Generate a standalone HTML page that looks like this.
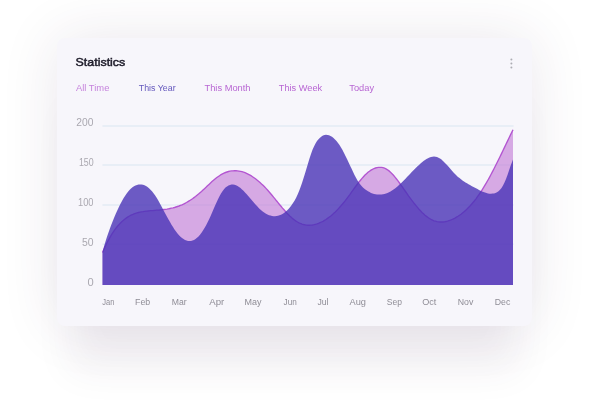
<!DOCTYPE html>
<html lang="en"><head><meta charset="utf-8"><title>Statistics</title>
<style>
html,body{margin:0;padding:0;background:#fff;}
body{width:600px;height:400px;position:relative;overflow:hidden;font-family:"Liberation Sans",sans-serif;}
.card{position:absolute;left:57px;top:38px;width:475px;height:288px;border-radius:8px;background:#f7f6fb;box-shadow:0 0 58px rgba(60,35,85,0.11),0 58px 37px -14px rgba(60,35,85,0.062);}
.t{position:absolute;left:0;top:0;white-space:nowrap;transform-origin:0 0;}
.title{font-size:11px;line-height:14px;font-weight:400;-webkit-text-stroke:0.45px #1c1a28;}
.tab{font-size:9.6px;line-height:12px;}
.yl{font-size:10.8px;line-height:14px;}
.ml{font-size:8.2px;line-height:12px;}
svg{position:absolute;left:0;top:0;}
</style></head><body>
<div class="card"></div>
<svg width="600" height="400" viewBox="0 0 600 400">
<rect x="102.5" y="125.2" width="411" height="1.6" fill="#e4ebf4"/>
<rect x="102.5" y="164.2" width="411" height="1.6" fill="#e4ebf4"/>
<rect x="102.5" y="204.2" width="411" height="1.6" fill="#e4ebf4"/>
<rect x="102.5" y="243.39999999999998" width="411" height="1.6" fill="#e4ebf4"/>
<path d="M102.5 252.6 L104.0 249.1 L105.5 245.9 L107.0 242.8 L108.5 240.0 L110.0 237.3 L111.5 234.7 L113.0 232.4 L114.5 230.2 L116.0 228.2 L117.5 226.3 L119.0 224.6 L120.5 223.0 L122.0 221.6 L123.5 220.2 L125.0 219.0 L126.5 217.9 L128.0 216.9 L129.5 216.0 L131.0 215.2 L132.5 214.5 L134.0 213.9 L135.5 213.4 L137.0 212.9 L138.5 212.5 L140.0 212.1 L141.5 211.8 L143.0 211.6 L144.5 211.3 L146.0 211.1 L147.5 211.0 L149.0 210.8 L150.5 210.7 L152.0 210.6 L153.5 210.5 L155.0 210.3 L156.5 210.2 L158.0 210.1 L159.5 210.0 L161.0 209.8 L162.5 209.7 L164.0 209.5 L165.5 209.3 L167.0 209.1 L168.5 208.8 L170.0 208.5 L171.5 208.2 L173.0 207.9 L174.5 207.5 L176.0 207.0 L177.5 206.5 L179.0 206.0 L180.5 205.4 L182.0 204.8 L183.5 204.1 L185.0 203.3 L186.5 202.5 L188.0 201.6 L189.5 200.7 L191.0 199.7 L192.5 198.7 L194.0 197.6 L195.5 196.5 L197.0 195.3 L198.5 194.1 L200.0 192.8 L201.5 191.5 L203.0 190.1 L204.5 188.7 L206.0 187.3 L207.5 185.8 L209.0 184.4 L210.5 183.0 L212.0 181.6 L213.5 180.3 L215.0 179.0 L216.5 177.8 L218.0 176.7 L219.5 175.7 L221.0 174.7 L222.5 173.9 L224.0 173.1 L225.5 172.5 L227.0 172.0 L228.5 171.5 L230.0 171.2 L231.5 170.9 L233.0 170.8 L234.5 170.7 L236.0 170.7 L237.5 170.9 L239.0 171.1 L240.5 171.4 L242.0 171.7 L243.5 172.2 L245.0 172.7 L246.5 173.4 L248.0 174.1 L249.5 174.9 L251.0 175.7 L252.5 176.7 L254.0 177.7 L255.5 178.8 L257.0 180.0 L258.5 181.2 L260.0 182.5 L261.5 183.9 L263.0 185.3 L264.5 186.8 L266.0 188.4 L267.5 190.0 L269.0 191.7 L270.5 193.5 L272.0 195.3 L273.5 197.1 L275.0 198.9 L276.5 200.8 L278.0 202.6 L279.5 204.5 L281.0 206.3 L282.5 208.1 L284.0 209.8 L285.5 211.5 L287.0 213.2 L288.5 214.7 L290.0 216.2 L291.5 217.6 L293.0 218.9 L294.5 220.0 L296.0 221.1 L297.5 222.0 L299.0 222.8 L300.5 223.5 L302.0 224.1 L303.5 224.5 L305.0 224.8 L306.5 225.1 L308.0 225.2 L309.5 225.2 L311.0 225.1 L312.5 225.0 L314.0 224.7 L315.5 224.3 L317.0 223.9 L318.5 223.4 L320.0 222.7 L321.5 222.0 L323.0 221.3 L324.5 220.4 L326.0 219.5 L327.5 218.4 L329.0 217.3 L330.5 216.2 L332.0 214.9 L333.5 213.6 L335.0 212.2 L336.5 210.7 L338.0 209.1 L339.5 207.5 L341.0 205.8 L342.5 204.0 L344.0 202.2 L345.5 200.3 L347.0 198.3 L348.5 196.3 L350.0 194.3 L351.5 192.2 L353.0 190.1 L354.5 188.0 L356.0 186.0 L357.5 184.0 L359.0 182.0 L360.5 180.2 L362.0 178.4 L363.5 176.7 L365.0 175.1 L366.5 173.7 L368.0 172.3 L369.5 171.2 L371.0 170.1 L372.5 169.3 L374.0 168.5 L375.5 168.0 L377.0 167.6 L378.5 167.3 L380.0 167.3 L381.5 167.4 L383.0 167.7 L384.5 168.2 L386.0 168.9 L387.5 169.8 L389.0 170.9 L390.5 172.2 L392.0 173.7 L393.5 175.3 L395.0 177.1 L396.5 179.0 L398.0 180.9 L399.5 183.0 L401.0 185.1 L402.5 187.2 L404.0 189.4 L405.5 191.5 L407.0 193.7 L408.5 195.8 L410.0 197.8 L411.5 199.9 L413.0 201.8 L414.5 203.8 L416.0 205.6 L417.5 207.4 L419.0 209.2 L420.5 210.8 L422.0 212.4 L423.5 213.8 L425.0 215.2 L426.5 216.4 L428.0 217.5 L429.5 218.5 L431.0 219.4 L432.5 220.1 L434.0 220.8 L435.5 221.2 L437.0 221.6 L438.5 221.9 L440.0 222.0 L441.5 222.0 L443.0 222.0 L444.5 221.8 L446.0 221.5 L447.5 221.2 L449.0 220.7 L450.5 220.2 L452.0 219.5 L453.5 218.8 L455.0 218.1 L456.5 217.2 L458.0 216.3 L459.5 215.3 L461.0 214.2 L462.5 213.0 L464.0 211.8 L465.5 210.4 L467.0 209.0 L468.5 207.5 L470.0 206.0 L471.5 204.3 L473.0 202.5 L474.5 200.7 L476.0 198.8 L477.5 196.7 L479.0 194.6 L480.5 192.4 L482.0 190.1 L483.5 187.7 L485.0 185.2 L486.5 182.7 L488.0 180.0 L489.5 177.3 L491.0 174.5 L492.5 171.6 L494.0 168.7 L495.5 165.8 L497.0 162.8 L498.5 159.8 L500.0 156.7 L501.5 153.6 L503.0 150.5 L504.5 147.4 L506.0 144.2 L507.5 141.1 L509.0 138.0 L510.5 134.9 L513.0 129.7 L513 285 L102.5 285 Z" fill="rgb(192,118,214)" fill-opacity="0.6"/>
<path d="M102.5 252.6 L104.0 249.1 L105.5 245.9 L107.0 242.8 L108.5 240.0 L110.0 237.3 L111.5 234.7 L113.0 232.4 L114.5 230.2 L116.0 228.2 L117.5 226.3 L119.0 224.6 L120.5 223.0 L122.0 221.6 L123.5 220.2 L125.0 219.0 L126.5 217.9 L128.0 216.9 L129.5 216.0 L131.0 215.2 L132.5 214.5 L134.0 213.9 L135.5 213.4 L137.0 212.9 L138.5 212.5 L140.0 212.1 L141.5 211.8 L143.0 211.6 L144.5 211.3 L146.0 211.1 L147.5 211.0 L149.0 210.8 L150.5 210.7 L152.0 210.6 L153.5 210.5 L155.0 210.3 L156.5 210.2 L158.0 210.1 L159.5 210.0 L161.0 209.8 L162.5 209.7 L164.0 209.5 L165.5 209.3 L167.0 209.1 L168.5 208.8 L170.0 208.5 L171.5 208.2 L173.0 207.9 L174.5 207.5 L176.0 207.0 L177.5 206.5 L179.0 206.0 L180.5 205.4 L182.0 204.8 L183.5 204.1 L185.0 203.3 L186.5 202.5 L188.0 201.6 L189.5 200.7 L191.0 199.7 L192.5 198.7 L194.0 197.6 L195.5 196.5 L197.0 195.3 L198.5 194.1 L200.0 192.8 L201.5 191.5 L203.0 190.1 L204.5 188.7 L206.0 187.3 L207.5 185.8 L209.0 184.4 L210.5 183.0 L212.0 181.6 L213.5 180.3 L215.0 179.0 L216.5 177.8 L218.0 176.7 L219.5 175.7 L221.0 174.7 L222.5 173.9 L224.0 173.1 L225.5 172.5 L227.0 172.0 L228.5 171.5 L230.0 171.2 L231.5 170.9 L233.0 170.8 L234.5 170.7 L236.0 170.7 L237.5 170.9 L239.0 171.1 L240.5 171.4 L242.0 171.7 L243.5 172.2 L245.0 172.7 L246.5 173.4 L248.0 174.1 L249.5 174.9 L251.0 175.7 L252.5 176.7 L254.0 177.7 L255.5 178.8 L257.0 180.0 L258.5 181.2 L260.0 182.5 L261.5 183.9 L263.0 185.3 L264.5 186.8 L266.0 188.4 L267.5 190.0 L269.0 191.7 L270.5 193.5 L272.0 195.3 L273.5 197.1 L275.0 198.9 L276.5 200.8 L278.0 202.6 L279.5 204.5 L281.0 206.3 L282.5 208.1 L284.0 209.8 L285.5 211.5 L287.0 213.2 L288.5 214.7 L290.0 216.2 L291.5 217.6 L293.0 218.9 L294.5 220.0 L296.0 221.1 L297.5 222.0 L299.0 222.8 L300.5 223.5 L302.0 224.1 L303.5 224.5 L305.0 224.8 L306.5 225.1 L308.0 225.2 L309.5 225.2 L311.0 225.1 L312.5 225.0 L314.0 224.7 L315.5 224.3 L317.0 223.9 L318.5 223.4 L320.0 222.7 L321.5 222.0 L323.0 221.3 L324.5 220.4 L326.0 219.5 L327.5 218.4 L329.0 217.3 L330.5 216.2 L332.0 214.9 L333.5 213.6 L335.0 212.2 L336.5 210.7 L338.0 209.1 L339.5 207.5 L341.0 205.8 L342.5 204.0 L344.0 202.2 L345.5 200.3 L347.0 198.3 L348.5 196.3 L350.0 194.3 L351.5 192.2 L353.0 190.1 L354.5 188.0 L356.0 186.0 L357.5 184.0 L359.0 182.0 L360.5 180.2 L362.0 178.4 L363.5 176.7 L365.0 175.1 L366.5 173.7 L368.0 172.3 L369.5 171.2 L371.0 170.1 L372.5 169.3 L374.0 168.5 L375.5 168.0 L377.0 167.6 L378.5 167.3 L380.0 167.3 L381.5 167.4 L383.0 167.7 L384.5 168.2 L386.0 168.9 L387.5 169.8 L389.0 170.9 L390.5 172.2 L392.0 173.7 L393.5 175.3 L395.0 177.1 L396.5 179.0 L398.0 180.9 L399.5 183.0 L401.0 185.1 L402.5 187.2 L404.0 189.4 L405.5 191.5 L407.0 193.7 L408.5 195.8 L410.0 197.8 L411.5 199.9 L413.0 201.8 L414.5 203.8 L416.0 205.6 L417.5 207.4 L419.0 209.2 L420.5 210.8 L422.0 212.4 L423.5 213.8 L425.0 215.2 L426.5 216.4 L428.0 217.5 L429.5 218.5 L431.0 219.4 L432.5 220.1 L434.0 220.8 L435.5 221.2 L437.0 221.6 L438.5 221.9 L440.0 222.0 L441.5 222.0 L443.0 222.0 L444.5 221.8 L446.0 221.5 L447.5 221.2 L449.0 220.7 L450.5 220.2 L452.0 219.5 L453.5 218.8 L455.0 218.1 L456.5 217.2 L458.0 216.3 L459.5 215.3 L461.0 214.2 L462.5 213.0 L464.0 211.8 L465.5 210.4 L467.0 209.0 L468.5 207.5 L470.0 206.0 L471.5 204.3 L473.0 202.5 L474.5 200.7 L476.0 198.8 L477.5 196.7 L479.0 194.6 L480.5 192.4 L482.0 190.1 L483.5 187.7 L485.0 185.2 L486.5 182.7 L488.0 180.0 L489.5 177.3 L491.0 174.5 L492.5 171.6 L494.0 168.7 L495.5 165.8 L497.0 162.8 L498.5 159.8 L500.0 156.7 L501.5 153.6 L503.0 150.5 L504.5 147.4 L506.0 144.2 L507.5 141.1 L509.0 138.0 L510.5 134.9 L513.0 129.7" fill="none" stroke="#b355d1" stroke-width="1.35"/>
<path d="M102.5 252.0 L104.0 246.5 L105.5 241.4 L107.0 236.7 L108.5 232.4 L110.0 228.3 L111.5 224.3 L113.0 220.5 L114.5 216.8 L116.0 213.3 L117.5 209.9 L119.0 206.7 L120.5 203.7 L122.0 200.9 L123.5 198.3 L125.0 195.9 L126.5 193.7 L128.0 191.8 L129.5 190.1 L131.0 188.6 L132.5 187.3 L134.0 186.3 L135.5 185.5 L137.0 184.9 L138.5 184.5 L140.0 184.4 L141.5 184.5 L143.0 184.8 L144.5 185.3 L146.0 186.1 L147.5 187.0 L149.0 188.2 L150.5 189.7 L152.0 191.3 L153.5 193.2 L155.0 195.3 L156.5 197.6 L158.0 200.1 L159.5 202.8 L161.0 205.5 L162.5 208.3 L164.0 211.2 L165.5 214.0 L167.0 216.8 L168.5 219.5 L170.0 222.1 L171.5 224.7 L173.0 227.1 L174.5 229.4 L176.0 231.5 L177.5 233.4 L179.0 235.2 L180.5 236.7 L182.0 238.0 L183.5 239.1 L185.0 240.0 L186.5 240.6 L188.0 240.9 L189.5 241.1 L191.0 240.9 L192.5 240.5 L194.0 239.9 L195.5 239.0 L197.0 237.8 L198.5 236.4 L200.0 234.7 L201.5 232.7 L203.0 230.5 L204.5 228.1 L206.0 225.5 L207.5 222.6 L209.0 219.5 L210.5 216.2 L212.0 212.8 L213.5 209.2 L215.0 205.8 L216.5 202.4 L218.0 199.2 L219.5 196.2 L221.0 193.5 L222.5 191.2 L224.0 189.2 L225.5 187.6 L227.0 186.4 L228.5 185.5 L230.0 184.9 L231.5 184.6 L233.0 184.5 L234.5 184.8 L236.0 185.3 L237.5 186.0 L239.0 187.0 L240.5 188.1 L242.0 189.4 L243.5 190.8 L245.0 192.4 L246.5 194.0 L248.0 195.7 L249.5 197.4 L251.0 199.2 L252.5 201.0 L254.0 202.8 L255.5 204.5 L257.0 206.1 L258.5 207.7 L260.0 209.2 L261.5 210.5 L263.0 211.7 L264.5 212.8 L266.0 213.7 L267.5 214.5 L269.0 215.2 L270.5 215.6 L272.0 216.0 L273.5 216.2 L275.0 216.2 L276.5 216.1 L278.0 215.8 L279.5 215.3 L281.0 214.7 L282.5 213.9 L284.0 212.9 L285.5 211.8 L287.0 210.4 L288.5 208.9 L290.0 207.2 L291.5 205.3 L293.0 203.1 L294.5 200.7 L296.0 197.9 L297.5 194.8 L299.0 191.3 L300.5 187.3 L302.0 183.0 L303.5 178.3 L305.0 173.4 L306.5 168.5 L308.0 163.4 L309.5 158.5 L311.0 153.9 L312.5 149.8 L314.0 146.4 L315.5 143.5 L317.0 141.1 L318.5 139.2 L320.0 137.7 L321.5 136.5 L323.0 135.6 L324.5 135.1 L326.0 134.8 L327.5 134.9 L329.0 135.2 L330.5 135.9 L332.0 136.8 L333.5 138.0 L335.0 139.4 L336.5 141.1 L338.0 143.0 L339.5 145.1 L341.0 147.5 L342.5 150.1 L344.0 152.9 L345.5 155.9 L347.0 159.0 L348.5 162.2 L350.0 165.4 L351.5 168.6 L353.0 171.8 L354.5 174.9 L356.0 177.7 L357.5 180.4 L359.0 182.7 L360.5 184.7 L362.0 186.4 L363.5 187.9 L365.0 189.2 L366.5 190.3 L368.0 191.3 L369.5 192.1 L371.0 192.9 L372.5 193.5 L374.0 193.9 L375.5 194.3 L377.0 194.5 L378.5 194.6 L380.0 194.6 L381.5 194.5 L383.0 194.2 L384.5 193.9 L386.0 193.4 L387.5 192.9 L389.0 192.2 L390.5 191.4 L392.0 190.5 L393.5 189.5 L395.0 188.4 L396.5 187.2 L398.0 186.0 L399.5 184.6 L401.0 183.2 L402.5 181.7 L404.0 180.2 L405.5 178.7 L407.0 177.1 L408.5 175.5 L410.0 173.9 L411.5 172.3 L413.0 170.8 L414.5 169.2 L416.0 167.7 L417.5 166.3 L419.0 164.9 L420.5 163.5 L422.0 162.3 L423.5 161.1 L425.0 160.1 L426.5 159.1 L428.0 158.3 L429.5 157.6 L431.0 157.1 L432.5 156.8 L434.0 156.6 L435.5 156.7 L437.0 157.1 L438.5 157.7 L440.0 158.6 L441.5 159.6 L443.0 160.9 L444.5 162.4 L446.0 163.9 L447.5 165.6 L449.0 167.3 L450.5 169.0 L452.0 170.8 L453.5 172.4 L455.0 174.0 L456.5 175.5 L458.0 176.9 L459.5 178.1 L461.0 179.3 L462.5 180.4 L464.0 181.4 L465.5 182.4 L467.0 183.3 L468.5 184.2 L470.0 185.1 L471.5 185.9 L473.0 186.7 L474.5 187.5 L476.0 188.3 L477.5 189.1 L479.0 189.9 L480.5 190.7 L482.0 191.4 L483.5 192.1 L485.0 192.6 L486.5 193.1 L488.0 193.4 L489.5 193.7 L491.0 193.7 L492.5 193.6 L494.0 193.4 L495.5 192.9 L497.0 192.2 L498.5 191.2 L500.0 189.8 L501.5 188.0 L503.0 185.6 L504.5 182.6 L506.0 179.0 L507.5 174.9 L509.0 170.5 L510.5 166.1 L513.0 159.5 L513 285 L102.5 285 Z" fill="rgb(73,51,182)" fill-opacity="0.8"/>
<circle cx="511.4" cy="59.4" r="1" fill="#adacb3"/>
<circle cx="511.4" cy="63.5" r="1" fill="#adacb3"/>
<circle cx="511.4" cy="67.6" r="1" fill="#adacb3"/>
</svg>
<div id="ttl" class="t title" style="color:#1f1d2b;transform:translate(75.57px,55.00px) scaleX(1.1292)">Statistics</div>
<div id="tab0" class="t tab" style="color:#c683dd;transform:translate(76.00px,82.00px) scaleX(0.9778)">All Time</div>
<div id="tab1" class="t tab" style="color:#6558bd;transform:translate(138.77px,82.00px) scaleX(0.9208)">This Year</div>
<div id="tab2" class="t tab" style="color:#b866d3;transform:translate(204.46px,82.00px) scaleX(0.9711)">This Month</div>
<div id="tab3" class="t tab" style="color:#b866d3;transform:translate(278.76px,82.00px) scaleX(0.9609)">This Week</div>
<div id="tab4" class="t tab" style="color:#b866d3;transform:translate(349.31px,82.00px) scaleX(0.9648)">Today</div>
<div id="yl0" class="t yl" style="color:#aaa8b0;transform:translate(76.37px,114.90px) scaleX(0.9509)">200</div>
<div id="yl1" class="t yl" style="color:#aaa8b0;transform:translate(78.88px,154.90px) scaleX(0.8183)">150</div>
<div id="yl2" class="t yl" style="color:#aaa8b0;transform:translate(77.98px,194.90px) scaleX(0.8599)">100</div>
<div id="yl3" class="t yl" style="color:#aaa8b0;transform:translate(82.02px,234.90px) scaleX(0.9640)">50</div>
<div id="yl4" class="t yl" style="color:#aaa8b0;transform:translate(87.41px,274.90px) scaleX(1.0299)">0</div>
<div id="m0" class="t ml" style="color:#8f8d96;transform:translate(102.27px,296.80px) scaleX(0.9200)">Jan</div>
<div id="m1" class="t ml" style="color:#8f8d96;transform:translate(135.04px,296.80px) scaleX(1.0773)">Feb</div>
<div id="m2" class="t ml" style="color:#8f8d96;transform:translate(171.75px,296.80px) scaleX(1.0597)">Mar</div>
<div id="m3" class="t ml" style="color:#8f8d96;transform:translate(209.28px,296.80px) scaleX(1.1761)">Apr</div>
<div id="m4" class="t ml" style="color:#8f8d96;transform:translate(244.53px,296.80px) scaleX(1.0987)">May</div>
<div id="m5" class="t ml" style="color:#8f8d96;transform:translate(283.60px,296.80px) scaleX(1.0004)">Jun</div>
<div id="m6" class="t ml" style="color:#8f8d96;transform:translate(317.44px,296.80px) scaleX(1.0567)">Jul</div>
<div id="m7" class="t ml" style="color:#8f8d96;transform:translate(349.51px,296.80px) scaleX(1.1287)">Aug</div>
<div id="m8" class="t ml" style="color:#8f8d96;transform:translate(386.83px,296.80px) scaleX(1.0401)">Sep</div>
<div id="m9" class="t ml" style="color:#8f8d96;transform:translate(422.22px,296.80px) scaleX(1.1126)">Oct</div>
<div id="m10" class="t ml" style="color:#8f8d96;transform:translate(457.75px,296.80px) scaleX(1.0717)">Nov</div>
<div id="m11" class="t ml" style="color:#8f8d96;transform:translate(494.75px,296.80px) scaleX(1.0692)">Dec</div>
</body></html>
